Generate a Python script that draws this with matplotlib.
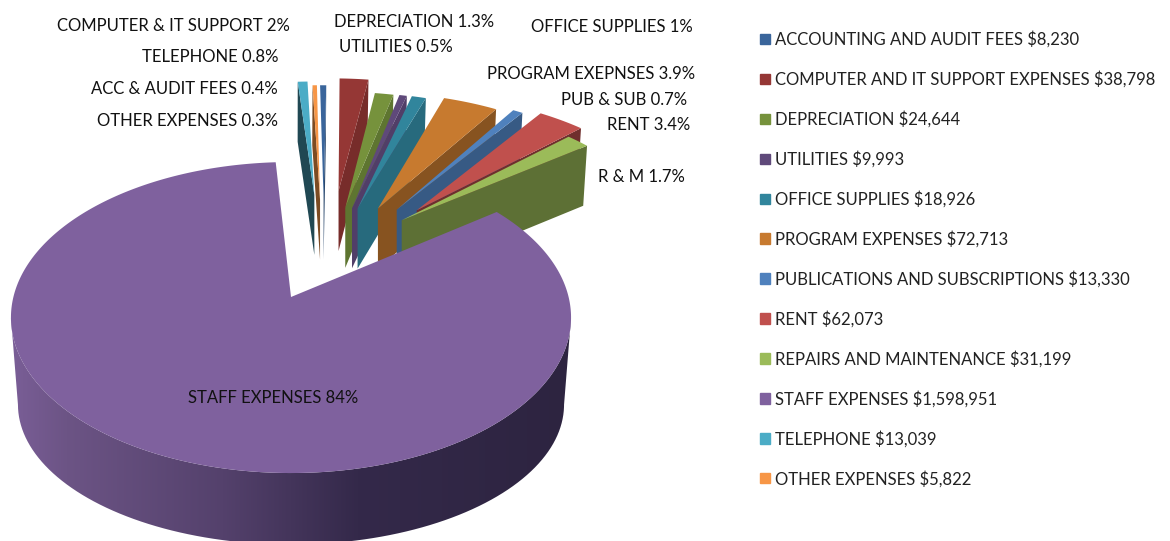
#!/usr/bin/env python3
import numpy as np
import matplotlib
matplotlib.use('Agg')
import matplotlib.pyplot as plt
from matplotlib.patches import Patch, PathPatch
from matplotlib.path import Path
from matplotlib.colors import LinearSegmentedColormap, to_rgb

plt.rcParams['font.family'] = ['Lato', 'DejaVu Sans']

categories = ['ACCOUNTING AND AUDIT FEES', 'COMPUTER AND IT SUPPORT EXPENSES', 'DEPRECIATION', 'UTILITIES',
              'OFFICE SUPPLIES', 'PROGRAM EXPENSES', 'PUBLICATIONS AND SUBSCRIPTIONS', 'RENT',
              'REPAIRS AND MAINTENANCE', 'STAFF EXPENSES', 'TELEPHONE', 'OTHER EXPENSES']
values = [8230, 38798, 24644, 9993, 18926, 72713, 13330, 62073, 31199, 1598951, 13039, 5822]
colors = ['#3A659B', '#953735', '#76923C', '#5F497A', '#31859C', '#C77A2F',
          '#4F81BD', '#C0504D', '#9BBB59', '#7F619E', '#4BACC6', '#F79646']
wall_shade = [0.7, 0.8, 0.8, 0.85, 0.8, 0.68, 0.7, 0.58, 0.6, 1, 0.42, 0.5]
explode = [0.60, 0.75, 0.47, 0.47, 0.47, 0.50, 0.52, 0.56, 0.40, 0, 0.68, 0.60]

pie_labels = ['COMPUTER & IT SUPPORT 2%', 'TELEPHONE 0.8%', 'ACC & AUDIT FEES 0.4%', 'OTHER EXPENSES 0.3%',
              'DEPRECIATION 1.3%', 'UTILITIES 0.5%', 'OFFICE SUPPLIES 1%', 'PROGRAM EXEPNSES 3.9%',
              'PUB & SUB 0.7%', 'RENT 3.4%', 'R & M 1.7%', 'STAFF EXPENSES 84%']
label_x = [57, 142, 91, 97, 334, 339, 531, 487, 561, 607, 598, 188]
label_y = [26, 57, 89, 121, 22, 47, 27, 74, 100, 125, 177, 398]

# camera, fitted by eye on the purple ellipse
CX, CY, AX, BY, K = 291, 297, 277.6, 152.8, 0.132
WALL = 60


def project(x, y):
    w = 1 + K * y
    return CX + AX * x / w, CY - BY * y / w


def purple_bottom(px, py):
    return CX + 0.975 * (px - CX), 405 + 0.9 * (py - 318)


def wall_bottom(px, py):
    return CX + 0.987 * (px - CX), py + WALL


fig = plt.figure(figsize=(11.7, 5.41), dpi=100)
ax = fig.add_axes([0, 0, 1, 1])

fracs = np.array(values) / sum(values)
ends = np.cumsum(fracs) * 360
starts = ends - fracs * 360
starts[-2:] -= 360
ends[-2:] -= 360

# slices behind the big one, left ones first so the right ones overlap them
order = [10, 11, 0, 1, 2, 3, 4, 5, 6, 7, 8]
for i in order:
    t0, t1 = np.radians(starts[i]), np.radians(ends[i])
    mid = (t0 + t1) / 2
    ax0 = 0.12 + explode[i] * np.sin(mid)
    ay0 = 0.42 + 0.46 * explode[i] * np.cos(mid)
    tt = np.linspace(t0, t1, 20)
    top_x, top_y = project(ax0 + np.sin(tt), ay0 + np.cos(tt))
    apex = project(ax0, ay0)
    # which cut wall shows depends on which way the slice leans
    k = 0 if mid < 0 else -1
    edge = (top_x[k], top_y[k])
    wall = [apex, edge, wall_bottom(*edge), (apex[0], apex[1] + WALL)]
    wall_col = tuple(v * wall_shade[i] for v in to_rgb(colors[i]))
    ax.fill([p[0] for p in wall], [p[1] for p in wall], color=wall_col, lw=0)
    ax.fill(np.r_[apex[0], top_x], np.r_[apex[1], top_y], color=colors[i], lw=0)

# big slice: side with gradient, then top
s = 9
side_cmap = LinearSegmentedColormap.from_list('side', [(0, '#2D2440'), (0.38, '#34294A'), (0.62, '#54416C'),
                                                       (0.9, '#6C5485'), (1, '#7A5E97')])
grad = ax.imshow(np.linspace(0, 1, 256)[None, :], extent=[571, 10, 541, 0], cmap=side_cmap, aspect='auto',
                 zorder=1)
tt = np.radians(np.linspace(97.6, 262.4, 200))
tx, ty = project(np.sin(tt), np.cos(tt))
bx, by = purple_bottom(tx, ty)
side = PathPatch(Path(np.c_[np.r_[tx, bx[::-1]], np.r_[ty, by[::-1]]]), fc='none', ec='none',
                 transform=ax.transData)
ax.add_patch(side)
grad.set_clip_path(side)

tt = np.radians(np.linspace(starts[s], ends[s], 400))
tx, ty = project(np.sin(tt), np.cos(tt))
ax.fill(np.r_[CX, tx], np.r_[CY, ty], color=colors[s], lw=0, zorder=2)

ax.set_xlim(0, 1170)
ax.set_ylim(541, 0)
ax.axis('off')

for txt, x, y in zip(pie_labels, label_x, label_y):
    ax.text(x, y, txt, fontsize=12, color='#111111', ha='left', va='center', parse_math=False, zorder=3)

handles = [Patch(color=c) for c in colors]
legend_labels = [f'{c} ${v:,}' for c, v in zip(categories, values)]
leg = ax.legend(handles, legend_labels, loc='upper left', bbox_to_anchor=(752 / 1170, 1 - 22.5 / 541), frameon=False,
                fontsize=12, labelspacing=1.385, handlelength=0.57, handleheight=0.57, handletextpad=0.3,
                borderpad=0, labelcolor='#222222')
for t in leg.get_texts():
    t.set_parse_math(False)

plt.savefig('out.png', dpi=100)
